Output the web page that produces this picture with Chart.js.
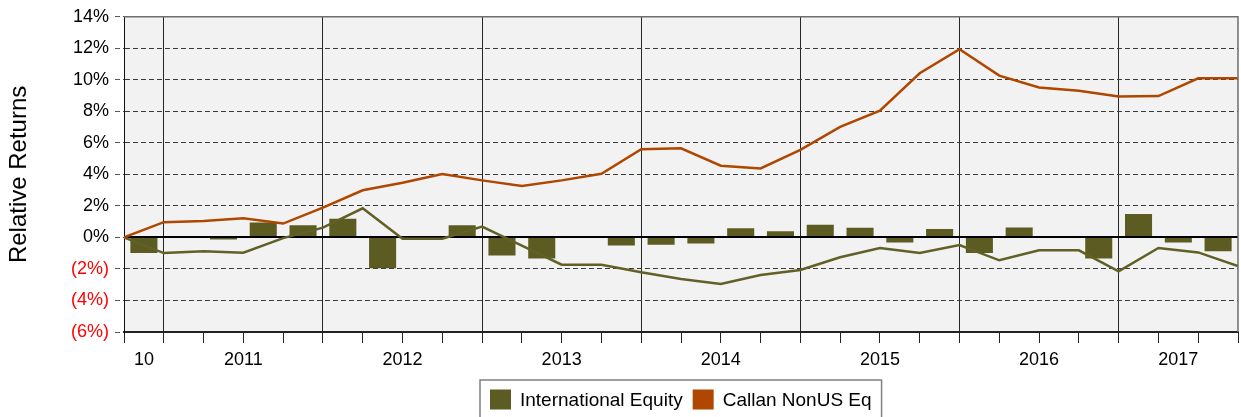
<!DOCTYPE html>
<html>
<head>
<meta charset="utf-8">
<title>Relative Returns</title>
<script src="https://cdn.jsdelivr.net/npm/chart.js@4.4.1/dist/chart.umd.min.js"></script>
<style>
  html, body { margin: 0; padding: 0; background: #fff; }
</style>
</head>
<body>
<canvas id="relChart" width="1241" height="417"></canvas>
<script>
// Quarterly periods, 4Q 2010 through 3Q 2017
var quarters = [
  '2010 Q4',
  '2011 Q1', '2011 Q2', '2011 Q3', '2011 Q4',
  '2012 Q1', '2012 Q2', '2012 Q3', '2012 Q4',
  '2013 Q1', '2013 Q2', '2013 Q3', '2013 Q4',
  '2014 Q1', '2014 Q2', '2014 Q3', '2014 Q4',
  '2015 Q1', '2015 Q2', '2015 Q3', '2015 Q4',
  '2016 Q1', '2016 Q2', '2016 Q3', '2016 Q4',
  '2017 Q1', '2017 Q2', '2017 Q3'
];
var yearLabels = ['10', '2011', '2012', '2013', '2014', '2015', '2016', '2017'];
var yTicks = [-6, -4, -2, 0, 2, 4, 6, 8, 10, 12, 14];

// quarterly excess return of International Equity (bars, one per quarter)
var excessReturns = [
  -0.99,
  0.08, -0.13, 0.95, 0.78,
  1.18, -1.96, -0.10, 0.78,
  -1.14, -1.33, 0.03, -0.51,
  -0.46, -0.38, 0.59, 0.40,
  0.80, 0.61, -0.32, 0.53,
  -0.99, 0.63, -0.04, -1.33,
  1.49, -0.32, -0.88
];
// cumulative relative returns, one value per quarter end (first is the start)
var intlCumulative = [
  0.00, -0.99, -0.88, -0.97, -0.04,
  0.62, 1.85, -0.08, -0.08,
  0.69, -0.52, -1.73, -1.73,
  -2.21, -2.63, -2.95, -2.38,
  -2.06, -1.26, -0.67, -0.99,
  -0.48, -1.45, -0.82, -0.82,
  -2.15, -0.67, -0.95, -1.81
];
var callanCumulative = [
  0.00, 0.97, 1.05, 1.22, 0.88,
  1.89, 2.99, 3.47, 4.02,
  3.62, 3.26, 3.62, 4.04,
  5.60, 5.66, 4.55, 4.38,
  5.56, 7.01, 8.04, 10.42,
  11.94, 10.27, 9.52, 9.31,
  8.95, 8.97, 10.10, 10.10
];

var olive = '#5c5b21';
var oliveLine = '#616027';
var rust = '#b04700';

// year starts / centres worked out from the quarter list
var years = quarters.map(function (q) { return q.slice(0, 4); });
var yearStarts = [];
years.forEach(function (y, i) { if (i === 0 || y !== years[i - 1]) yearStarts.push(i); });
var yearBounds = yearStarts.slice(1);
var yearCenters = yearStarts.map(function (s, j) {
  var e = j + 1 < yearStarts.length ? yearStarts[j + 1] : quarters.length;
  return (s + e) / 2;
});

Chart.defaults.font.family = "'Liberation Sans', Arial, sans-serif";
Chart.defaults.color = '#000';

var plotFrame = {
  id: 'plotFrame',
  beforeDraw: function (chart) {
    var a = chart.chartArea, ctx = chart.ctx;
    ctx.save();
    ctx.fillStyle = '#f2f2f2';
    ctx.fillRect(a.left, a.top, a.right - a.left, a.bottom - a.top);
    ctx.restore();
  },
  afterDatasetDraw: function (chart, args) {
    // zero line sits on the bars but under the two lines
    if (args.index !== 0) return;
    var a = chart.chartArea, ctx = chart.ctx;
    var y0 = Math.round(chart.scales.y.getPixelForValue(0));
    ctx.save();
    ctx.strokeStyle = '#000';
    ctx.lineWidth = 2;
    ctx.beginPath();
    ctx.moveTo(a.left, y0);
    ctx.lineTo(a.right, y0);
    ctx.stroke();
    ctx.restore();
  },
  afterDraw: function (chart) {
    var a = chart.chartArea, ctx = chart.ctx;
    ctx.save();
    // top and right frame
    ctx.strokeStyle = '#6e6e6e';
    ctx.lineWidth = 1.5;
    ctx.beginPath();
    ctx.moveTo(a.left, a.top);
    ctx.lineTo(a.right, a.top);
    ctx.lineTo(a.right, a.bottom);
    ctx.stroke();

    // legend box under the axis
    var items = chart.data.datasets.filter(function (ds) {
      return ds.inLegend !== false;
    }).map(function (ds) {
      return { label: ds.label, color: ds.type === 'line' ? ds.borderColor : ds.backgroundColor };
    });
    ctx.font = "19px 'Liberation Sans', Arial, sans-serif";
    var pad = 10, sw = 21, gap = 9, between = 10;
    var total = pad * 2;
    items.forEach(function (it, i) {
      it.w = ctx.measureText(it.label).width;
      total += sw + gap + it.w + (i > 0 ? between : 0);
    });
    var bx = Math.round((a.left + a.right) / 2 - total / 2);
    var by = 380, bh = 42;
    ctx.fillStyle = '#fff';
    ctx.fillRect(bx, by, total, bh);
    ctx.strokeStyle = '#808080';
    ctx.lineWidth = 1.5;
    ctx.strokeRect(bx, by, total, bh);
    var x = bx + pad, cy = 399.5;
    ctx.textBaseline = 'middle';
    items.forEach(function (it, i) {
      if (i > 0) x += between;
      ctx.fillStyle = it.color;
      ctx.fillRect(x, cy - 10, sw, 20);
      x += sw + gap;
      ctx.fillStyle = '#000';
      ctx.fillText(it.label, x, cy + 1);
      x += it.w;
    });
    ctx.restore();
  }
};

var ctx = document.getElementById('relChart').getContext('2d');

var relChart = new Chart(ctx, {
  type: 'bar',
  data: {
    datasets: [{
      label: 'International Equity',
      data: excessReturns.map(function (v, i) { return { x: i + 0.5, y: v }; }),
      backgroundColor: olive,
      borderWidth: 0,
      barPercentage: 0.68,
      categoryPercentage: 1,
      order: 3
    }, {
      type: 'line',
      label: 'Callan NonUS Eq',
      data: callanCumulative.map(function (v, k) { return { x: k, y: v }; }),
      borderColor: rust,
      backgroundColor: rust,
      borderWidth: 2.5,
      pointRadius: 0,
      tension: 0,
      fill: false,
      order: 1
    }, {
      type: 'line',
      label: 'International Equity cumulative',
      data: intlCumulative.map(function (v, k) { return { x: k, y: v }; }),
      borderColor: oliveLine,
      backgroundColor: oliveLine,
      borderWidth: 2.5,
      pointRadius: 0,
      tension: 0,
      fill: false,
      order: 2,
      inLegend: false
    }]
  },
  options: {
    responsive: false,
    animation: false,
    devicePixelRatio: 1,
    layout: { padding: { left: 0, right: 3, top: 15, bottom: 44 } },
    plugins: {
      legend: { display: false },
      tooltip: { enabled: false }
    },
    scales: {
      x: {
        type: 'linear',
        position: 'bottom',
        min: 0,
        max: quarters.length,
        offset: false,
        weight: 0,
        afterBuildTicks: function (s) {
          var t = [];
          for (var i = 0; i <= quarters.length; i++) t.push({ value: i });
          s.ticks = t;
        },
        ticks: { display: false },
        grid: {
          offset: false,
          color: function (c) {
            return c.tick && yearBounds.indexOf(c.tick.value) >= 0 ? '#262626' : 'rgba(0,0,0,0)';
          },
          lineWidth: 1,
          tickColor: '#222',
          tickLength: 11,
          tickWidth: 1
        },
        border: { color: '#222', width: 2 },
        afterFit: function (s) { s.height = 11; }
      },
      xl: {
        type: 'linear',
        position: 'bottom',
        min: 0,
        max: quarters.length,
        offset: false,
        weight: 1,
        afterBuildTicks: function (s) {
          s.ticks = yearCenters.map(function (v) { return { value: v }; });
        },
        ticks: {
          autoSkip: false,
          maxRotation: 0,
          padding: 6,
          color: '#000',
          font: { size: 18 },
          callback: function (v, i) { return yearLabels[i]; }
        },
        grid: { display: false, drawTicks: false },
        border: { display: false },
        afterFit: function (s) { s.height = 30; }
      },
      y: {
        min: -6,
        max: 14,
        afterBuildTicks: function (s) {
          s.ticks = yTicks.map(function (v) { return { value: v }; });
        },
        ticks: {
          padding: 6,
          font: { size: 18 },
          color: function (c) { return c.tick && c.tick.value < 0 ? '#ff0000' : '#000'; },
          callback: function (v) { return v < 0 ? '(' + (-v) + '%)' : v + '%'; }
        },
        grid: {
          color: function (c) {
            var v = c.tick ? c.tick.value : null;
            return (v === 0 || v === -6 || v === 14) ? 'rgba(0,0,0,0)' : '#3a3a3a';
          },
          lineWidth: 1,
          tickColor: '#555',
          tickLength: 9,
          tickBorderDash: [5, 3]
        },
        border: { color: '#111', width: 1, dash: [5, 3] },
        title: {
          display: true,
          text: 'Relative Returns',
          color: '#000',
          font: { size: 24 },
          padding: { top: 5, bottom: 0 }
        },
        afterFit: function (s) { s.width = 124; }
      }
    }
  },
  plugins: [plotFrame]
});
</script>
</body>
</html>
